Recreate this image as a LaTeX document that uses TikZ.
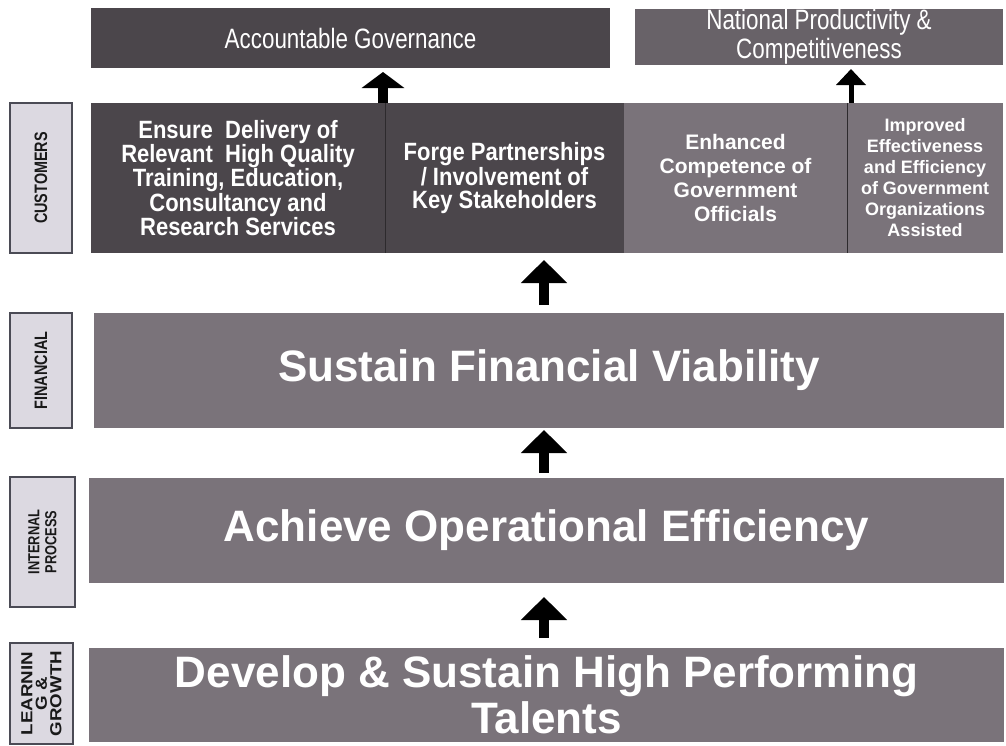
\documentclass[tikz,border=0pt]{standalone}
\usepackage{fontspec}
\setmainfont{Liberation Sans}
\newfontfamily\cellfont[FakeStretch=0.88]{Liberation Sans}
\newfontfamily\headfont[FakeStretch=0.8]{Liberation Sans}
\newfontfamily\tagfont[FakeStretch=0.8]{Liberation Sans}
\newfontfamily\tagwidefont[FakeStretch=1.17]{Liberation Sans}
\usetikzlibrary{arrows.meta, positioning}
\definecolor{plumdark}{HTML}{4B464B}
\definecolor{plummid}{HTML}{686268}
\definecolor{plumgrey}{HTML}{7A737A}
\definecolor{tagfill}{HTML}{DCD9E1}
\definecolor{tagedge}{HTML}{4B4B55}

\begin{document}
\begin{tikzpicture}[x=1pt, y=-1pt,
    tagbox/.style={draw=tagedge, line width=1.5pt, fill=tagfill, text=black!90,
      rotate=90, inner sep=0pt, outer sep=0pt, align=center},
    rowbox/.style={fill=plumgrey, text=white, inner sep=0pt, outer sep=0pt, align=center,
      font=\bfseries\fontsize{44pt}{46pt}\selectfont},
    cellbox/.style={text=white, inner sep=0pt, outer sep=0pt, align=center,
      minimum height=150pt},
    headbox/.style={text=white, inner sep=0pt, outer sep=0pt, align=center,
      font=\headfont\fontsize{28pt}{29pt}\selectfont},
    lift/.style={-{Triangle[width=45pt,length=23pt]}, line width=10pt, black}]
    \useasboundingbox (0,0) rectangle (1006,745);

    % Goals on top
    \node[headbox, fill=plumdark, minimum width=519pt, minimum height=60pt] (gov) at (350.5,38)
      {Accountable Governance};
    \node[headbox, fill=plummid, minimum width=368pt, minimum height=56pt] (nat) at (819,37)
      {National Productivity \&\\Competitiveness};

    % Customers row (four cells)
    \node[cellbox, fill=plumdark, minimum width=294pt,
      font=\cellfont\bfseries\fontsize{25pt}{23pt}\selectfont] (deliver) at (238,178)
      {Ensure~ Delivery of\\Relevant~ High Quality\\Training, Education,\\Consultancy and\\Research Services};
    \node[cellbox, fill=plumdark, minimum width=239pt,
      font=\cellfont\bfseries\fontsize{25pt}{23pt}\selectfont] (partner) at (504.5,178)
      {Forge Partnerships\\/ Involvement of\\Key Stakeholders};
    \node[cellbox, fill=plumgrey, minimum width=223pt,
      font=\bfseries\fontsize{21pt}{24pt}\selectfont] (compete) at (735.5,178)
      {Enhanced\\Competence of\\Government\\Officials};
    \node[cellbox, fill=plumgrey, minimum width=156pt,
      font=\bfseries\fontsize{18pt}{21pt}\selectfont] (assist) at (925,178)
      {Improved\\Effectiveness\\and Efficiency\\of Government\\Organizations\\Assisted};
    \draw[plumdark!60!black, line width=1pt] (deliver.north east) -- (deliver.south east);
    \draw[plumdark!60!black, line width=1pt] (assist.north west) -- (assist.south west);

    % Perspective rows
    \node[rowbox, minimum width=910pt, minimum height=115pt] (fin) at (549,370.5)
      {Sustain Financial Viability};
    \node[rowbox, minimum width=915pt, minimum height=105pt] (proc) at (546.5,530.5)
      {Achieve Operational Efficiency};
    \node[rowbox, minimum width=915pt, minimum height=94pt] (learn) at (546.5,695)
      {Develop \& Sustain High Performing\\Talents};

    % Perspective tags (left)
    \node[tagbox, minimum width=150pt, minimum height=62pt,
      font=\tagfont\bfseries\fontsize{18pt}{18pt}\selectfont] (tcust) at (41,178) {CUSTOMERS};
    \node[tagbox, minimum width=115pt, minimum height=62pt,
      font=\tagfont\bfseries\fontsize{18pt}{18pt}\selectfont] (tfin) at (41,370.5) {FINANCIAL};
    \node[tagbox, minimum width=130pt, minimum height=65pt,
      font=\tagfont\bfseries\fontsize{16pt}{17pt}\selectfont] (tproc) at (42.5,542)
      {INTERNAL\\PROCESS};
    \node[tagbox, minimum width=101pt, minimum height=63pt,
      font=\tagwidefont\bfseries\fontsize{16pt}{14.5pt}\selectfont] (tlearn) at (41.5,693.5)
      {LEARNIN\\G \&\\GROWTH};

    % Arrows
    \coordinate (spine) at (544,0);
    \coordinate (govlift) at (383,0);
    \coordinate (natlift) at (851,0);
    \draw[lift, shorten <=8pt, shorten >=7pt] (fin.north -| spine) -- (partner.south -| spine);
    \draw[lift, shorten <=5pt, shorten >=2pt] (proc.north -| spine) -- (fin.south -| spine);
    \draw[lift, shorten <=10pt, shorten >=14pt] (learn.north -| spine) -- (proc.south -| spine);
    \draw[-{Triangle[width=42pt,length=16pt]}, line width=10pt, shorten >=4pt]
      (deliver.north -| govlift) -- (gov.south -| govlift);
    \draw[-{Triangle[width=29pt,length=16pt]}, line width=5pt, shorten >=4pt]
      (assist.north -| natlift) -- (nat.south -| natlift);
\end{tikzpicture}
\end{document}
